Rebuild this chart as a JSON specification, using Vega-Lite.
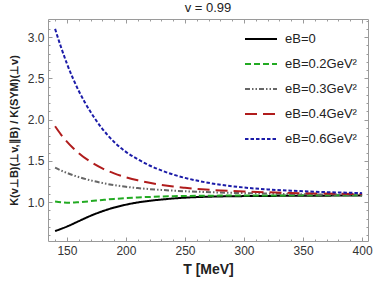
{
  "$schema": "https://vega.github.io/schema/vega-lite/v6.json",
  "width": 320,
  "height": 222,
  "autosize": "none",
  "padding": {"left": 48, "top": 19, "right": 6, "bottom": 43},
  "background": "white",
  "title": {"text": "v = 0.99", "fontSize": 13, "font": "Liberation Sans", "fontWeight": "normal", "color": "#222", "offset": 4},
  "config": {
    "view": {"stroke": "#9a9a9a", "strokeWidth": 1},
    "axis": {"labelFont": "Liberation Sans", "titleFont": "Liberation Sans", "labelColor": "#333", "titleColor": "#222", "domain": false, "grid": false, "tickColor": "#9a9a9a", "labelFontSize": 12}
  },
  "data": {"values": [
    {"T":140,"eB":"eB=0","K":0.65},{"T":150,"eB":"eB=0","K":0.705},{"T":160,"eB":"eB=0","K":0.77},{"T":170,"eB":"eB=0","K":0.835},{"T":180,"eB":"eB=0","K":0.89},{"T":190,"eB":"eB=0","K":0.935},{"T":200,"eB":"eB=0","K":0.97},{"T":210,"eB":"eB=0","K":0.997},{"T":220,"eB":"eB=0","K":1.017},{"T":230,"eB":"eB=0","K":1.032},{"T":240,"eB":"eB=0","K":1.045},{"T":250,"eB":"eB=0","K":1.055},{"T":260,"eB":"eB=0","K":1.062},{"T":280,"eB":"eB=0","K":1.07},{"T":300,"eB":"eB=0","K":1.074},{"T":320,"eB":"eB=0","K":1.076},{"T":340,"eB":"eB=0","K":1.078},{"T":360,"eB":"eB=0","K":1.079},{"T":380,"eB":"eB=0","K":1.08},{"T":400,"eB":"eB=0","K":1.08},
    {"T":140,"eB":"eB=0.2GeV²","K":1.01},{"T":145,"eB":"eB=0.2GeV²","K":1.0},{"T":150,"eB":"eB=0.2GeV²","K":0.995},{"T":155,"eB":"eB=0.2GeV²","K":0.995},{"T":160,"eB":"eB=0.2GeV²","K":1.0},{"T":170,"eB":"eB=0.2GeV²","K":1.013},{"T":180,"eB":"eB=0.2GeV²","K":1.027},{"T":190,"eB":"eB=0.2GeV²","K":1.04},{"T":200,"eB":"eB=0.2GeV²","K":1.05},{"T":210,"eB":"eB=0.2GeV²","K":1.058},{"T":220,"eB":"eB=0.2GeV²","K":1.064},{"T":230,"eB":"eB=0.2GeV²","K":1.069},{"T":240,"eB":"eB=0.2GeV²","K":1.073},{"T":250,"eB":"eB=0.2GeV²","K":1.075},{"T":260,"eB":"eB=0.2GeV²","K":1.077},{"T":280,"eB":"eB=0.2GeV²","K":1.08},{"T":300,"eB":"eB=0.2GeV²","K":1.081},{"T":320,"eB":"eB=0.2GeV²","K":1.082},{"T":340,"eB":"eB=0.2GeV²","K":1.083},{"T":360,"eB":"eB=0.2GeV²","K":1.084},{"T":380,"eB":"eB=0.2GeV²","K":1.085},{"T":400,"eB":"eB=0.2GeV²","K":1.085},
    {"T":140,"eB":"eB=0.3GeV²","K":1.42},{"T":145,"eB":"eB=0.3GeV²","K":1.385},{"T":150,"eB":"eB=0.3GeV²","K":1.355},{"T":155,"eB":"eB=0.3GeV²","K":1.328},{"T":160,"eB":"eB=0.3GeV²","K":1.305},{"T":170,"eB":"eB=0.3GeV²","K":1.265},{"T":180,"eB":"eB=0.3GeV²","K":1.233},{"T":190,"eB":"eB=0.3GeV²","K":1.207},{"T":200,"eB":"eB=0.3GeV²","K":1.187},{"T":210,"eB":"eB=0.3GeV²","K":1.171},{"T":220,"eB":"eB=0.3GeV²","K":1.159},{"T":230,"eB":"eB=0.3GeV²","K":1.149},{"T":240,"eB":"eB=0.3GeV²","K":1.14},{"T":250,"eB":"eB=0.3GeV²","K":1.133},{"T":260,"eB":"eB=0.3GeV²","K":1.127},{"T":280,"eB":"eB=0.3GeV²","K":1.117},{"T":300,"eB":"eB=0.3GeV²","K":1.11},{"T":320,"eB":"eB=0.3GeV²","K":1.104},{"T":340,"eB":"eB=0.3GeV²","K":1.099},{"T":360,"eB":"eB=0.3GeV²","K":1.095},{"T":380,"eB":"eB=0.3GeV²","K":1.092},{"T":400,"eB":"eB=0.3GeV²","K":1.09},
    {"T":140,"eB":"eB=0.4GeV²","K":1.92},{"T":145,"eB":"eB=0.4GeV²","K":1.82},{"T":150,"eB":"eB=0.4GeV²","K":1.735},{"T":155,"eB":"eB=0.4GeV²","K":1.66},{"T":160,"eB":"eB=0.4GeV²","K":1.595},{"T":170,"eB":"eB=0.4GeV²","K":1.49},{"T":180,"eB":"eB=0.4GeV²","K":1.41},{"T":190,"eB":"eB=0.4GeV²","K":1.35},{"T":200,"eB":"eB=0.4GeV²","K":1.303},{"T":210,"eB":"eB=0.4GeV²","K":1.265},{"T":220,"eB":"eB=0.4GeV²","K":1.235},{"T":230,"eB":"eB=0.4GeV²","K":1.21},{"T":240,"eB":"eB=0.4GeV²","K":1.19},{"T":250,"eB":"eB=0.4GeV²","K":1.175},{"T":260,"eB":"eB=0.4GeV²","K":1.162},{"T":280,"eB":"eB=0.4GeV²","K":1.143},{"T":300,"eB":"eB=0.4GeV²","K":1.13},{"T":320,"eB":"eB=0.4GeV²","K":1.12},{"T":340,"eB":"eB=0.4GeV²","K":1.112},{"T":360,"eB":"eB=0.4GeV²","K":1.106},{"T":380,"eB":"eB=0.4GeV²","K":1.102},{"T":400,"eB":"eB=0.4GeV²","K":1.1},
    {"T":140,"eB":"eB=0.6GeV²","K":3.1},{"T":145,"eB":"eB=0.6GeV²","K":2.88},{"T":150,"eB":"eB=0.6GeV²","K":2.68},{"T":155,"eB":"eB=0.6GeV²","K":2.505},{"T":160,"eB":"eB=0.6GeV²","K":2.35},{"T":165,"eB":"eB=0.6GeV²","K":2.215},{"T":170,"eB":"eB=0.6GeV²","K":2.095},{"T":180,"eB":"eB=0.6GeV²","K":1.89},{"T":190,"eB":"eB=0.6GeV²","K":1.73},{"T":200,"eB":"eB=0.6GeV²","K":1.61},{"T":210,"eB":"eB=0.6GeV²","K":1.52},{"T":220,"eB":"eB=0.6GeV²","K":1.445},{"T":230,"eB":"eB=0.6GeV²","K":1.385},{"T":240,"eB":"eB=0.6GeV²","K":1.335},{"T":250,"eB":"eB=0.6GeV²","K":1.295},{"T":260,"eB":"eB=0.6GeV²","K":1.262},{"T":280,"eB":"eB=0.6GeV²","K":1.212},{"T":300,"eB":"eB=0.6GeV²","K":1.178},{"T":320,"eB":"eB=0.6GeV²","K":1.155},{"T":340,"eB":"eB=0.6GeV²","K":1.139},{"T":360,"eB":"eB=0.6GeV²","K":1.127},{"T":380,"eB":"eB=0.6GeV²","K":1.118},{"T":400,"eB":"eB=0.6GeV²","K":1.11}
  ]},
  "layer": [
    {
      "mark": {"type": "line", "strokeWidth": 2, "interpolate": "monotone", "clip": true},
      "encoding": {
        "x": {"field": "T", "type": "quantitative", "scale": {"domain": [134, 405], "nice": false, "zero": false},
          "axis": {"orient": "bottom", "title": "T [MeV]", "titleFontSize": 14, "titleFontWeight": "bold",
            "values": [140,150,160,170,180,190,200,210,220,230,240,250,260,270,280,290,300,310,320,330,340,350,360,370,380,390,400],
            "labelExpr": "datum.value % 50 === 0 ? datum.label : ''",
            "tickSize": {"condition": {"test": "datum.value % 50 === 0", "value": -4}, "value": -2},
            "labelPadding": 8, "titlePadding": 6}},
        "y": {"field": "K", "type": "quantitative", "scale": {"domain": [0.53, 3.22], "nice": false, "zero": false},
          "axis": {"orient": "left", "title": "K(v⊥B)(⊥v,∥B) / K(SYM)(⊥v)", "titleFontSize": 11, "titleFontWeight": "bold",
            "values": [0.6,0.7,0.8,0.9,1.0,1.1,1.2,1.3,1.4,1.5,1.6,1.7,1.8,1.9,2.0,2.1,2.2,2.3,2.4,2.5,2.6,2.7,2.8,2.9,3.0,3.1,3.2],
            "labelExpr": "round(datum.value*10) % 5 === 0 ? format(datum.value, '.1f') : ''",
            "tickSize": {"condition": {"test": "round(datum.value*10) % 5 === 0", "value": -4}, "value": -2},
            "labelPadding": 8, "titlePadding": 8}},
        "color": {"field": "eB", "type": "nominal",
          "scale": {"domain": ["eB=0", "eB=0.2GeV²", "eB=0.3GeV²", "eB=0.4GeV²", "eB=0.6GeV²"], "range": ["#000000", "#22aa22", "#666666", "#b01c1c", "#1c1ca8"]},
          "legend": {"title": null, "orient": "none", "legendX": 196, "legendY": 3, "symbolType": "stroke", "symbolSize": 1024, "symbolStrokeWidth": 2, "labelFontSize": 13, "labelFont": "Liberation Sans", "labelColor": "#222", "rowPadding": 1, "labelOffset": 7}},
        "strokeDash": {"field": "eB", "type": "nominal",
          "scale": {"domain": ["eB=0", "eB=0.2GeV²", "eB=0.3GeV²", "eB=0.4GeV²", "eB=0.6GeV²"], "range": [[1, 0], [6, 3], [5, 2, 1.5, 2, 1.5, 2], [12, 6], [3.5, 2]]},
          "legend": {"title": null}}
      }
    },
    {
      "mark": {"type": "line", "opacity": 0},
      "encoding": {
        "x": {"field": "T", "type": "quantitative",
          "axis": {"orient": "top", "title": null, "labels": false,
            "values": [140,150,160,170,180,190,200,210,220,230,240,250,260,270,280,290,300,310,320,330,340,350,360,370,380,390,400],
            "tickSize": {"condition": {"test": "datum.value % 50 === 0", "value": -4}, "value": -2}}},
        "y": {"field": "K", "type": "quantitative",
          "axis": {"orient": "right", "title": null, "labels": false,
            "values": [0.6,0.7,0.8,0.9,1.0,1.1,1.2,1.3,1.4,1.5,1.6,1.7,1.8,1.9,2.0,2.1,2.2,2.3,2.4,2.5,2.6,2.7,2.8,2.9,3.0,3.1,3.2],
            "tickSize": {"condition": {"test": "round(datum.value*10) % 5 === 0", "value": -4}, "value": -2}}},
        "detail": {"field": "eB", "type": "nominal"}
      }
    }
  ],
  "resolve": {"axis": {"x": "independent", "y": "independent"}}
}
